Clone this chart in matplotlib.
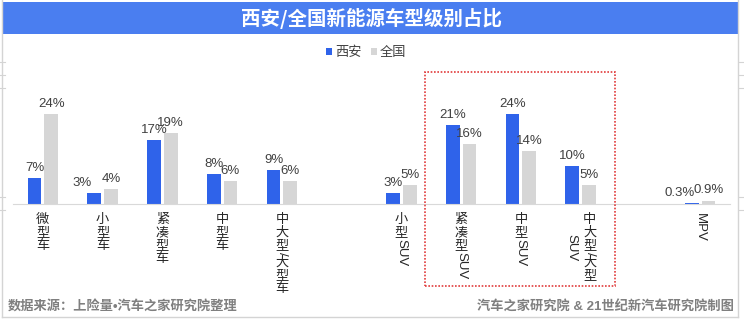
import matplotlib
matplotlib.use('Agg')
import matplotlib.pyplot as plt
import numpy as np
from matplotlib.patches import Rectangle
from matplotlib.lines import Line2D
from matplotlib.transforms import blended_transform_factory

plt.rcParams['font.family'] = ['Liberation Sans', 'Noto Sans CJK SC', 'DejaVu Sans']

# data
title = '西安/全国新能源车型级别占比'
categories = ['微型车', '小型车', '紧凑型车', '中型车', '中大型/大型车', '',
              '小型SUV', '紧凑型SUV', '中型SUV', '中大型/大型\nSUV', '', 'MPV']
xian = [7, 3, 17, 8, 9, np.nan, 3, 21, 24, 10, np.nan, 0.3]
quanguo = [24, 4, 19, 6, 6, np.nan, 5, 16, 14, 5, np.nan, 0.9]
series_names = ['西安', '全国']
source_left = '数据来源：上险量•汽车之家研究院整理'
source_right = '汽车之家研究院 & 21世纪新汽车研究院制图'

BLUE = '#2f63ea'
GRAY = '#d6d6d6'
TITLE_BLUE = '#4a7ef0'

W, H = 744, 324
fig = plt.figure(figsize=(W / 100, H / 100), dpi=100)


def fx(px):
    return px / W


def fy(py):
    return 1 - py / H


# outer frame like the screenshot
frame_c = '#d4d4d4'
fig.add_artist(Line2D([fx(2), fx(2)], [fy(0), fy(317)], transform=fig.transFigure, color=frame_c, lw=1))
fig.add_artist(Line2D([fx(738), fx(738)], [fy(0), fy(317)], transform=fig.transFigure, color=frame_c, lw=1))
fig.add_artist(Line2D([fx(2), fx(738)], [fy(317), fy(317)], transform=fig.transFigure, color=frame_c, lw=1))
for yy in [62, 75, 88, 197, 210]:
    fig.add_artist(Line2D([fx(0), fx(5)], [fy(yy), fy(yy)], transform=fig.transFigure, color=frame_c, lw=0.8))
    fig.add_artist(Line2D([fx(739), fx(744)], [fy(yy), fy(yy)], transform=fig.transFigure, color=frame_c, lw=0.8))

# title bar
fig.add_artist(Rectangle((fx(2), fy(34)), fx(738) - fx(2), fy(2) - fy(34),
                         transform=fig.transFigure, color=TITLE_BLUE, lw=0))
fig.text(fx(371), fy(18), title, ha='center', va='center', color='white',
         fontsize=14, fontweight='bold', family='Noto Sans CJK SC')

ax = fig.add_axes([fx(13), fy(204), fx(730) - fx(13), fy(40) - fy(204)])
x = np.arange(len(categories))
bw = 0.23
off = 0.14
b1 = ax.bar(x - off, xian, bw, color=BLUE, label=series_names[0])
b2 = ax.bar(x + off, quanguo, bw, color=GRAY, label=series_names[1])
ax.set_xlim(-0.5, len(categories) - 0.5)
ax.set_ylim(0, 43.7)
for s in ['top', 'left', 'right']:
    ax.spines[s].set_visible(False)
ax.spines['bottom'].set_color('#d9d9d9')
ax.set_xticks([])
ax.set_yticks([])
ax.patch.set_alpha(0)

# value labels; nudge the left one away when both values are nearly equal
for i, (v1, v2) in enumerate(zip(xian, quanguo)):
    for r, v, side in [(b1[i], v1, -1), (b2[i], v2, 1)]:
        if np.isnan(v):
            continue
        dx = -9 if (side < 0 and abs(v1 - v2) < 1.5) else 0
        ax.annotate(f'{v:g}%', (r.get_x() + r.get_width() / 2, v), xytext=(dx, 3),
                    textcoords='offset points', ha='center', va='bottom',
                    fontsize=9.5, color='#404040')

ax.legend(loc='center', bbox_to_anchor=(fx(366), fy(53)), bbox_transform=fig.transFigure,
          ncol=2, frameon=False, handlelength=0.5, handleheight=0.5, handletextpad=0.2,
          columnspacing=0.7, fontsize=9.5, labelcolor='#404040')

# vertical category labels (CJK upright, latin rotated)
renderer = fig.canvas.get_renderer()
trans = blended_transform_factory(ax.transData, fig.transFigure)
STEP = 13
slot_px = (730 - 13) / len(categories)
LFS = 9.5


def runs(line):
    out = []
    for c in line:
        cjk = ord(c) > 0x2E80
        if cjk:
            out.append((True, c))
        elif out and not out[-1][0]:
            out[-1] = (False, out[-1][1] + c)
        else:
            out.append((False, c))
    return out


def run_len(run):
    if run[0]:
        return STEP
    t = fig.text(0, 0, run[1], rotation=-90, fontsize=LFS)
    h = t.get_window_extent(renderer).height
    t.remove()
    return h


for xi, label in enumerate(categories):
    if not label:
        continue
    lines = label.split('\n')
    lens = [sum(run_len(r) for r in runs(l)) for l in lines]
    total = max(lens)
    n = len(lines)
    for i, l in enumerate(lines):
        xx = xi + ((n - 1) / 2 - i) * 18 / slot_px
        y = 213 + (total - lens[i]) / 2
        for r in runs(l):
            if r[0]:
                fig.text(xx, fy(y), r[1], transform=trans, ha='center', va='top',
                         fontsize=LFS, color='#262626', family='Noto Sans CJK SC')
            else:
                fig.text(xx, fy(y), r[1], transform=trans, ha='center', va='top',
                         rotation=-90, fontsize=LFS, color='#262626')
            y += run_len(r)

# red dotted highlight box
fig.add_artist(Rectangle((fx(425), fy(286)), fx(615) - fx(425), fy(72) - fy(286),
                         transform=fig.transFigure, fill=False, ec='#e03c3c',
                         ls=(0, (1, 1)), lw=1.2))

fig.text(fx(8), fy(307), source_left, ha='left', va='center', fontsize=9.5,
         fontweight='bold', color='#7f7f7f')
fig.text(fx(734), fy(307), source_right, ha='right', va='center', fontsize=9.5,
         fontweight='bold', color='#7f7f7f')

fig.savefig('out.png', dpi=100)
